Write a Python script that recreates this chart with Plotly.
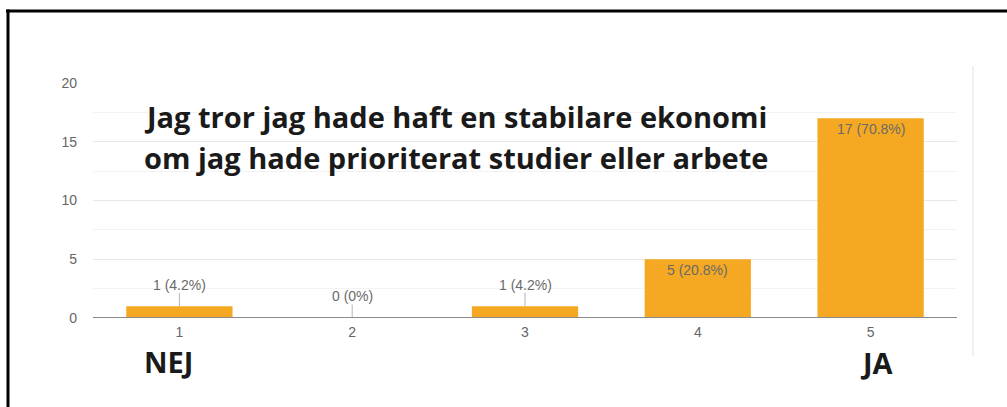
import plotly.graph_objects as go

categories = ["1", "2", "3", "4", "5"]
counts = [1, 0, 1, 5, 17]
percents = ["4.2%", "0%", "4.2%", "20.8%", "70.8%"]
y_ticks = [0, 5, 10, 15, 20]
title_lines = ["Jag tror jag hade haft en stabilare ekonomi",
               "om jag hade prioriterat studier eller arbete"]
end_labels = ["NEJ", "JA"]

W, H = 1007, 407
L, R, T, B = 93, 50, 83, 89
PW, PH = W - L - R, H - T - B

def px(x):
    return (x - L) / PW

def py(y):
    return (H - B - y) / PH

BAR = "#F5A922"
LABEL = "#6a6a6a"
idx = list(range(len(categories)))

fig = go.Figure()
fig.add_trace(go.Bar(
    x=idx, y=counts, width=0.615,
    marker=dict(color=BAR, line=dict(width=0)),
    hoverinfo="skip", showlegend=False,
))

ann = []
shapes = []
for i, v, p in zip(idx, counts, percents):
    txt = f"{v} ({p})"
    if v >= 3:
        ann.append(dict(x=i, y=v, xref="x", yref="y", text=txt, showarrow=False,
                        yshift=-11, font=dict(size=14, color=LABEL, family="Liberation Sans")))
    else:
        shapes.append(dict(type="line", xref="x", yref="y", x0=i, x1=i,
                           y0=v, y1=v + 1.15, line=dict(color="#b5b5b5", width=1)))
        ann.append(dict(x=i, y=v + 1.15, xref="x", yref="y", text=txt, showarrow=False,
                        yanchor="bottom", yshift=-2,
                        font=dict(size=14, color=LABEL, family="Liberation Sans")))

for i, line in enumerate(title_lines):
    ann.append(dict(x=px(142), y=py(116 + 41 * i), xref="paper", yref="paper",
                    xanchor="left", yanchor="middle", text=f"<b>{line}</b>",
                    showarrow=False, font=dict(size=29, color="#1a1a1a", family="Open Sans")))

ann.append(dict(x=idx[0], y=py(361), xref="x", yref="paper", xshift=-11,
                text=f"<b>{end_labels[0]}</b>", showarrow=False, yanchor="middle",
                font=dict(size=29, color="#1a1a1a", family="Open Sans")))
ann.append(dict(x=idx[-1], y=py(362), xref="x", yref="paper", xshift=6,
                text=f"<b>{end_labels[1]}</b>", showarrow=False, yanchor="middle",
                font=dict(size=29, color="#1a1a1a", family="Open Sans")))

# frame and faint side rule
shapes += [
    dict(type="line", xref="paper", yref="paper", x0=px(6), x1=px(1010), y0=py(11), y1=py(11),
         line=dict(color="black", width=3)),
    dict(type="line", xref="paper", yref="paper", x0=px(8), x1=px(8), y0=py(9.5), y1=py(410),
         line=dict(color="black", width=3)),
    dict(type="line", xref="paper", yref="paper", x0=px(973), x1=px(973), y0=py(66), y1=py(356),
         line=dict(color="#f0f0f0", width=2)),
    dict(type="line", xref="paper", yref="y", x0=0, x1=1, y0=0, y1=0,
         line=dict(color="#8a8a8a", width=2)),
]

fig.update_layout(
    width=W, height=H,
    margin=dict(l=L, r=R, t=T, b=B),
    paper_bgcolor="white", plot_bgcolor="white",
    annotations=ann, shapes=shapes,
    xaxis=dict(range=[-0.5, len(categories) - 0.5], tickvals=idx, ticktext=categories,
               showgrid=False, zeroline=False, showline=False,
               tickfont=dict(size=14, color="#666", family="Liberation Sans"),
               ticks="", ticklabelstandoff=4),
    yaxis=dict(range=[0, 20], tickvals=y_ticks, showgrid=True, gridcolor="#e8e8e8",
               gridwidth=1, zeroline=False, showline=False,
               minor=dict(dtick=2.5, showgrid=True, gridcolor="#f3f3f3"),
               tickfont=dict(size=14, color="#666", family="Liberation Sans"),
               ticklabelstandoff=15),
)

fig.write_html("out.html", config={"displayModeBar": False},
               post_script="document.body.style.margin='0';")
